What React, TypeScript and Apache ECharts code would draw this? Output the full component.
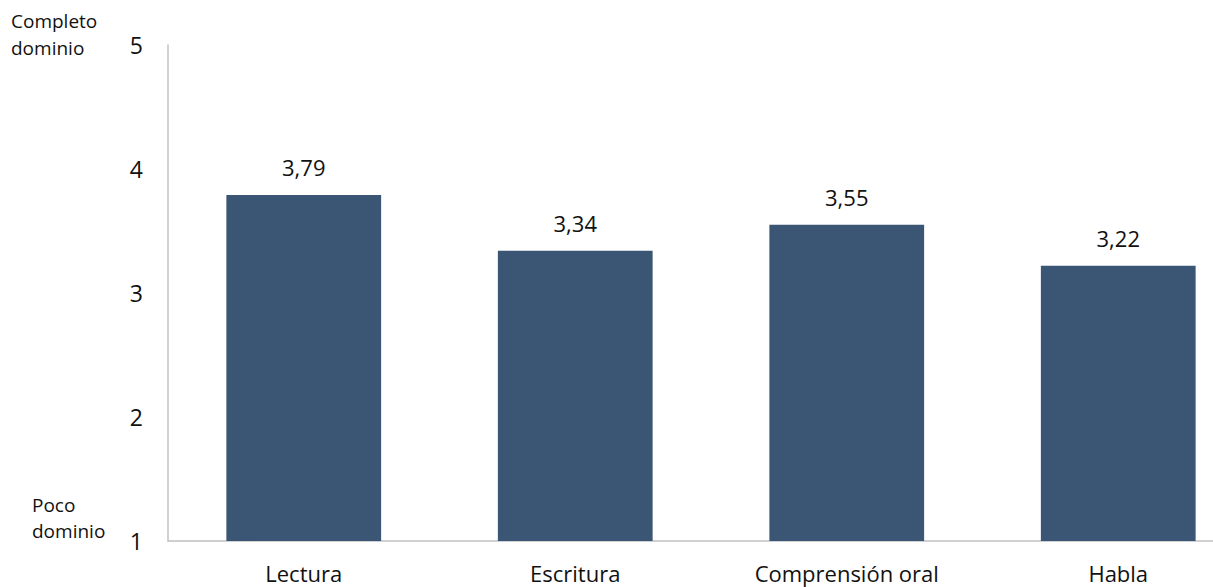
import React, { useEffect, useRef } from "react";
import * as echarts from "echarts";

const categories = ["Lectura", "Escritura", "Comprensión oral", "Habla"];
const values = [3.79, 3.34, 3.55, 3.22];
const topNote = ["Completo", "dominio"];
const bottomNote = ["Poco", "dominio"];

export default function App() {
  const ref = useRef<HTMLDivElement>(null);
  useEffect(() => {
    const chart = echarts.init(ref.current!, null, { renderer: "svg" });
    const font = "'Open Sans', sans-serif";
    chart.setOption({
      animation: false,
      textStyle: { fontFamily: font },
      grid: { left: 168, top: 45, bottom: 46, right: 0, containLabel: false },
      xAxis: {
        type: "category",
        data: categories,
        axisLine: { show: true, lineStyle: { color: "#c0c0c0", width: 1.5 } },
        axisTick: { show: false },
        axisLabel: { color: "#111", fontSize: 22, margin: 21, fontFamily: font },
      },
      yAxis: {
        type: "value",
        min: 1,
        max: 5,
        interval: 1,
        axisLine: { show: true, lineStyle: { color: "#c0c0c0", width: 1.5 } },
        axisTick: { show: false },
        splitLine: { show: false },
        axisLabel: { color: "#111", fontSize: 23, margin: 25, fontFamily: font },
      },
      series: [
        {
          type: "bar",
          data: values,
          barWidth: "57%",
          itemStyle: { color: "#3b5674" },
          label: {
            show: true,
            position: "top",
            distance: 17,
            fontSize: 22,
            color: "#111",
            fontFamily: font,
            formatter: (p: any) => p.value.toFixed(2).replace(".", ","),
          },
        },
      ],
      graphic: [
        {
          type: "text",
          left: 11,
          top: 7,
          style: { text: topNote.join("\n"), fontSize: 19, lineHeight: 27, fill: "#111", fontFamily: font },
        },
        {
          type: "text",
          left: 32,
          top: 492,
          style: { text: bottomNote.join("\n"), fontSize: 19, lineHeight: 26, fill: "#111", fontFamily: font },
        },
      ],
    });
    return () => chart.dispose();
  }, []);
  return (
    <div
      ref={ref}
      style={{ position: "fixed", left: 0, top: 0, width: 1254, height: 587, background: "#fff" }}
    />
  );
}
